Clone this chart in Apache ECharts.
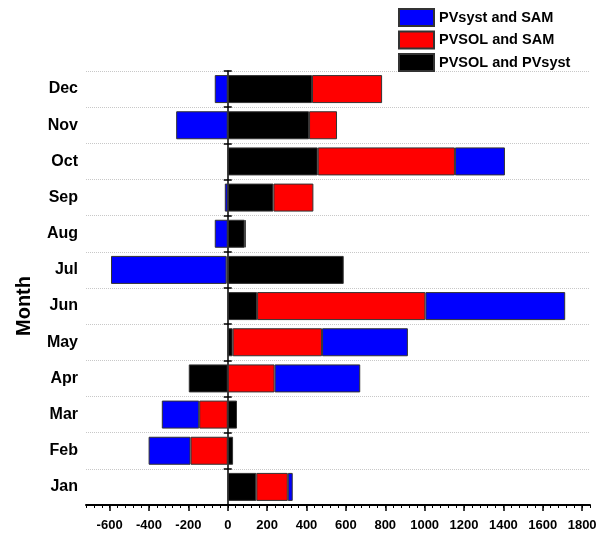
<!DOCTYPE html>
<html>
<head>
<meta charset="utf-8">
<script src="https://cdn.jsdelivr.net/npm/echarts@6/dist/echarts.min.js"></script>
<style>html,body{margin:0;padding:0;background:#fff;}#c{width:610px;height:534px;}</style>
</head>
<body>
<div id="c"></div>
<script>
var months = ['Jan','Feb','Mar','Apr','May','Jun','Jul','Aug','Sep','Oct','Nov','Dec'];
var pvsolPvsyst = [145, 27, 47, -198, 25, 149, 589, 86, 232, 457, 413, 428];
var pvsolSam    = [160, -189, -145, 238, 454, 855, -6, 5, 203, 697, 142, 356];
var pvsystSam   = [25, -213, -190, 435, 436, 710, -587, -66, -15, 254, -262, -66];
var xTickLabels = [-600, -400, -200, 0, 200, 400, 600, 800, 1000, 1200, 1400, 1600, 1800];

var FONT = '"Liberation Sans", Arial, sans-serif';
var chart = echarts.init(document.getElementById('c'), null, {renderer: 'canvas'});
var barBorder = {borderColor: '#333', borderWidth: 1};
chart.setOption({
  animation: false,
  backgroundColor: '#fff',
  grid: {left: 86, right: 20, top: 71, bottom: 29, containLabel: false, outerBoundsMode: 'none'},
  legend: {
    orient: 'vertical', left: 398, top: 8, padding: 0,
    itemWidth: 35, itemHeight: 17, itemGap: 3.5,
    icon: 'rect',
    data: ['PVsyst and SAM', 'PVSOL and SAM', 'PVSOL and PVsyst'],
    textStyle: {fontFamily: FONT, fontWeight: 'bold', fontSize: 14.5, color: '#000'}
  },
  graphic: [{
    type: 'text', x: 24, y: 306, rotation: Math.PI / 2,
    style: {text: 'Month', fontFamily: FONT, fontWeight: 'bold', fontSize: 20, fill: '#000',
            align: 'center', verticalAlign: 'middle'}
  }],
  xAxis: [{
    type: 'value', min: -720, max: 1840, interval: 40, position: 'bottom',
    axisLine: {show: true, onZero: false, lineStyle: {color: '#000', width: 2}},
    axisTick: {show: true, length: 3, lineStyle: {color: '#000', width: 1}},
    axisLabel: {show: true, customValues: xTickLabels, margin: 14, fontFamily: FONT, fontWeight: 'bold', fontSize: 13, color: '#000',
                formatter: function (v) { return String(v); }},
    splitLine: {show: false}
  }, {
    type: 'value', min: -720, max: 1840, interval: 40, position: 'bottom',
    axisLine: {show: false, onZero: false},
    axisTick: {show: true, customValues: xTickLabels, length: 6, lineStyle: {color: '#000', width: 1.5}},
    axisLabel: {show: false},
    splitLine: {show: false}
  }],
  yAxis: [{
    type: 'category', data: months, position: 'left',
    axisLine: {show: true, onZero: true, onZeroAxisIndex: 0, lineStyle: {color: '#000', width: 1.5}},
    axisTick: {show: true, length: 4, lineStyle: {color: '#000', width: 1.5}},
    axisLabel: {show: false},
    splitLine: {show: true, lineStyle: {color: '#c8c8c8', type: 'dotted', width: 1}}
  }, {
    type: 'category', data: months, position: 'left',
    axisLine: {show: false, onZero: true, onZeroAxisIndex: 0},
    axisTick: {show: true, inside: true, length: 4, lineStyle: {color: '#000', width: 1.5}},
    axisLabel: {show: false},
    splitLine: {show: false}
  }, {
    type: 'category', data: months, position: 'left',
    axisLine: {show: false, onZero: false},
    axisTick: {show: false},
    axisLabel: {show: true, margin: 8, fontFamily: FONT, fontWeight: 'bold', fontSize: 16, color: '#000'},
    splitLine: {show: false}
  }],
  series: [{
    name: 'PVSOL and PVsyst', type: 'bar', stack: 'total', data: pvsolPvsyst,
    barWidth: 28, itemStyle: Object.assign({color: '#000000'}, barBorder)
  }, {
    name: 'PVSOL and SAM', type: 'bar', stack: 'total', data: pvsolSam,
    barWidth: 28, itemStyle: Object.assign({color: '#ff0000'}, barBorder)
  }, {
    name: 'PVsyst and SAM', type: 'bar', stack: 'total', data: pvsystSam,
    barWidth: 28, itemStyle: Object.assign({color: '#0000ff'}, barBorder)
  }]
});
</script>
</body>
</html>
